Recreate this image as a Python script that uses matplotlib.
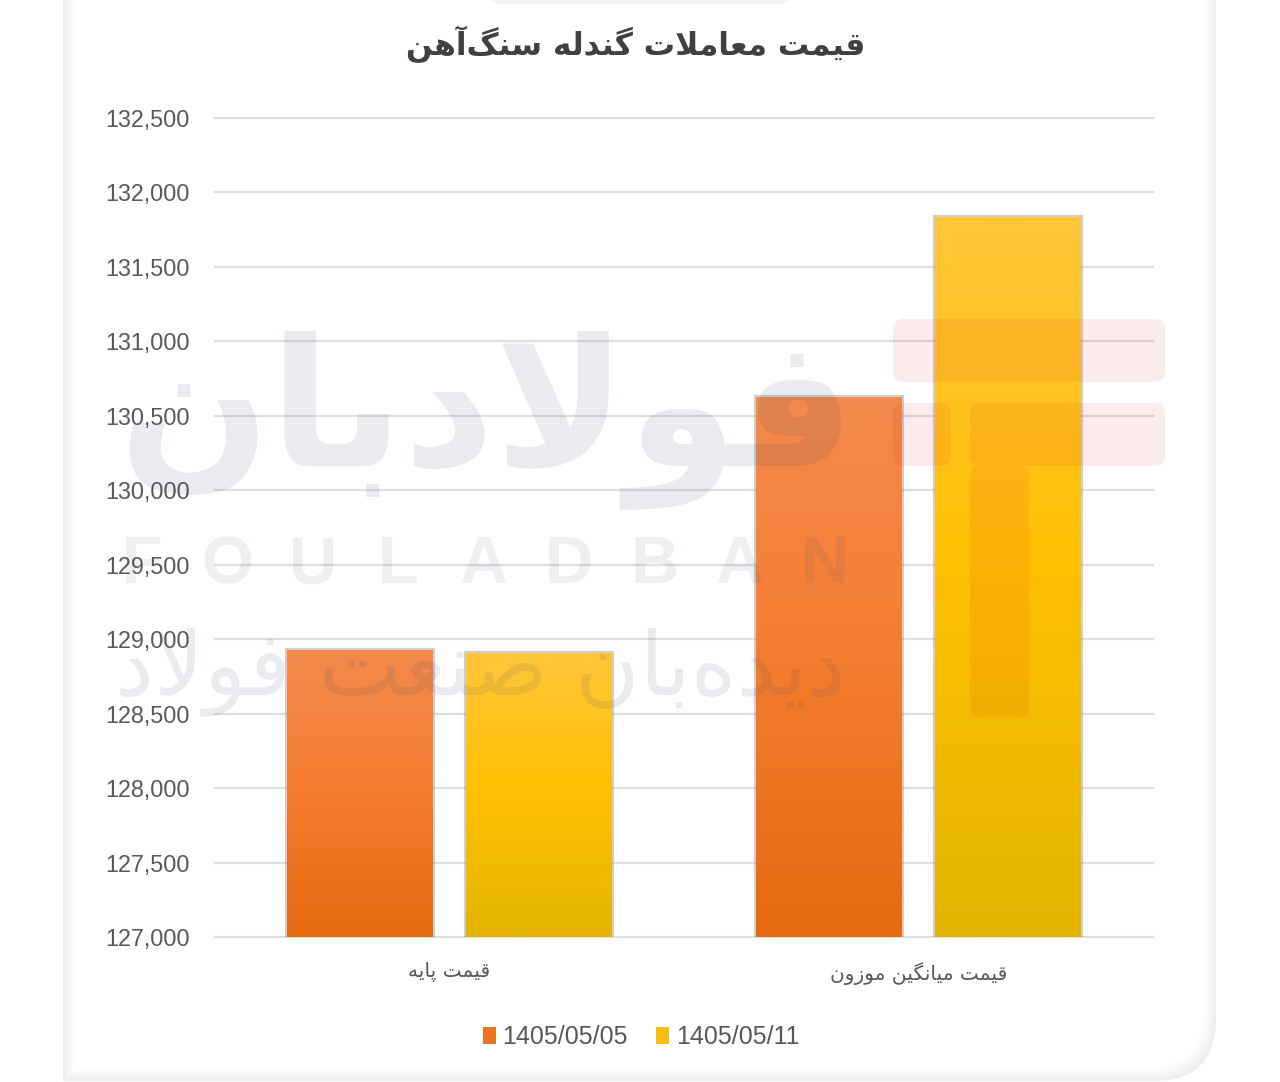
import matplotlib
matplotlib.use('Agg')
import matplotlib.pyplot as plt
from matplotlib.patches import FancyBboxPatch, Patch, Rectangle
from matplotlib.colors import LinearSegmentedColormap
import numpy as np

# Values
categories = ['قیمت پایه', 'قیمت میانگین موزون']
dates = ['1405/05/05', '1405/05/11']
prices_first = [128930, 130625]
prices_second = [128905, 131835]
y_ticks = [127000, 127500, 128000, 128500, 129000, 129500,
           130000, 130500, 131000, 131500, 132000, 132500]
title = 'قیمت معاملات گندله سنگ\u200cآهن'
logo_fa = 'فولادبان'
logo_en = 'FOULADBAN'
slogan = 'دیده\u200cبان صنعت فولاد'

W, H = 1280, 1082
LATIN = 'Liberation Sans'

# isolated, final, initial, medial presentation forms
FORMS = {
    'ا': (0xFE8D, 0xFE8E), 'آ': (0xFE81, 0xFE82), 'د': (0xFEA9, 0xFEAA),
    'ر': (0xFEAD, 0xFEAE), 'ز': (0xFEAF, 0xFEB0), 'و': (0xFEED, 0xFEEE),
    'ب': (0xFE8F, 0xFE90, 0xFE91, 0xFE92), 'پ': (0xFB56, 0xFB57, 0xFB58, 0xFB59),
    'ت': (0xFE95, 0xFE96, 0xFE97, 0xFE98), 'س': (0xFEB1, 0xFEB2, 0xFEB3, 0xFEB4),
    'ص': (0xFEB9, 0xFEBA, 0xFEBB, 0xFEBC), 'ع': (0xFEC9, 0xFECA, 0xFECB, 0xFECC),
    'ف': (0xFED1, 0xFED2, 0xFED3, 0xFED4), 'ق': (0xFED5, 0xFED6, 0xFED7, 0xFED8),
    'گ': (0xFB92, 0xFB93, 0xFB94, 0xFB95), 'ل': (0xFEDD, 0xFEDE, 0xFEDF, 0xFEE0),
    'م': (0xFEE1, 0xFEE2, 0xFEE3, 0xFEE4), 'ن': (0xFEE5, 0xFEE6, 0xFEE7, 0xFEE8),
    'ه': (0xFEE9, 0xFEEA, 0xFEEB, 0xFEEC), 'ی': (0xFBFC, 0xFBFD, 0xFBFE, 0xFBFF),
}


def shape(text):
    # matplotlib does no Arabic shaping, so pick the joined glyphs by hand
    out = []
    i = 0
    prev_joins = False
    while i < len(text):
        c = text[i]
        nxt = text[i + 1] if i + 1 < len(text) else ''
        if c == 'ل' and nxt == 'ا':
            out.append(chr(0xFEFC if prev_joins else 0xFEFB))
            prev_joins = False
            i += 2
            continue
        if c not in FORMS:
            if c != '\u200c':
                out.append(c)
            prev_joins = False
            i += 1
            continue
        f = FORMS[c]
        next_joins = len(f) == 4 and nxt in FORMS
        if len(f) == 2:
            out.append(chr(f[1] if prev_joins else f[0]))
        elif prev_joins and next_joins:
            out.append(chr(f[3]))
        elif prev_joins:
            out.append(chr(f[1]))
        elif next_joins:
            out.append(chr(f[2]))
        else:
            out.append(chr(f[0]))
        prev_joins = next_joins
        i += 1
    return ''.join(reversed(out))


fig = plt.figure(figsize=(W / 100, H / 100), dpi=100, facecolor='white')

# page card behind everything, in pixel coordinates
bg = fig.add_axes([0, 0, 1, 1], zorder=0)
bg.set_xlim(0, W)
bg.set_ylim(H, 0)
bg.axis('off')
for inset, shade in [(0, '#efeff1'), (3, '#f4f4f5'), (6, '#f8f8f9'), (9, '#fcfcfc'), (12, 'white')]:
    bg.add_patch(FancyBboxPatch((63 + inset, -80), 1153 - 2 * inset, 1161 - inset,
                                boxstyle='round,pad=0,rounding_size=62', fc=shade, ec='none'))
    # only the lower right corner of the card is round
    bg.add_patch(Rectangle((63 + inset, 900), 300, 181 - inset, fc=shade, ec='none'))
bg.add_patch(FancyBboxPatch((490, -20), 300, 24, boxstyle='round,pad=0,rounding_size=10',
                            fc='#f4f4f5', ec='none'))

# chart
ax = fig.add_axes([215 / W, 1 - 937 / H, 938 / W, 819 / H], zorder=1)
ax.patch.set_alpha(0)
x = np.arange(len(categories)) + 0.5
offset = 0.19
width = 0.311

orange = LinearSegmentedColormap.from_list('o', ['#f58a4e', '#f47c2e', '#e4690f'])
yellow = LinearSegmentedColormap.from_list('y', ['#ffc63a', '#ffc000', '#e3b400'])
grad = np.linspace(0, 1, 256).reshape(-1, 1)

series = [(prices_first, -offset, orange, '#ed7d31'), (prices_second, offset, yellow, '#fdbf10')]
for vals, off, cmap, col in series:
    ax.bar(x + off, vals, width, color='none', edgecolor='#777777', linewidth=3, alpha=0.35, zorder=2)
    bars = ax.bar(x + off, vals, width, color=col, zorder=3)
    for b in bars:
        im = ax.imshow(grad, cmap=cmap, aspect='auto', zorder=4,
                       extent=(b.get_x(), b.get_x() + b.get_width(), y_ticks[0], b.get_height()))
        im.set_clip_path(b)

ax.set_xlim(0, len(categories))
ax.set_ylim(y_ticks[0], y_ticks[-1])
ax.set_yticks(y_ticks)
ax.set_yticklabels([f'{t:,}' for t in y_ticks], family=LATIN, fontsize=16.8, color='#595959')
ax.set_xticks(x)
ax.set_xticklabels([shape(c) for c in categories], fontsize=14.5, color='#595959')
ax.tick_params(axis='y', length=0, pad=18)
ax.tick_params(axis='x', length=0, pad=18)
ax.grid(axis='y', color='#dfdfe2', linewidth=1.6, zorder=1)
ax.set_axisbelow(True)
for line in ax.get_ygridlines():
    line.set_clip_on(False)
for s in ax.spines.values():
    s.set_visible(False)

fig.text(636 / W, 1 - 44 / H, shape(title), ha='center', va='center', fontsize=22.5,
         fontweight='bold', color='#404040')

handles = [Patch(facecolor='#ea7420'), Patch(facecolor='#f7bd12')]
fig.legend(handles, dates, loc='center', bbox_to_anchor=(641 / W, 1 - 1037 / H), ncol=2, frameon=False,
           prop={'family': LATIN, 'size': 18}, labelcolor='#595959', handlelength=0.52,
           handleheight=0.68, handletextpad=0.28, columnspacing=1.12)

# watermark drawn over the chart
wm = fig.add_axes([0, 0, 1, 1], zorder=2)
wm.set_xlim(0, W)
wm.set_ylim(H, 0)
wm.axis('off')
wm_col = '#3d4f6e'
wm.text(487, 420, shape(logo_fa), ha='center', va='center', fontsize=128, fontweight='bold',
        color=wm_col, alpha=0.11)
for ch, px in zip(logo_en, np.linspace(142, 825, len(logo_en))):
    wm.text(px, 566, ch, ha='center', va='center', fontsize=48, family=LATIN, fontweight='bold',
            color=wm_col, alpha=0.09)
wm.text(480, 672, shape(slogan), ha='center', va='center', fontsize=63, color=wm_col, alpha=0.11)
logo_red = '#d8232f'
for x0, y0, w, h in [(893, 319, 272, 63), (893, 403, 58, 63), (970, 403, 195, 63)]:
    wm.add_patch(FancyBboxPatch((x0, y0), w, h, boxstyle='round,pad=0,rounding_size=10',
                                fc=logo_red, ec='none', alpha=0.09))
wm.add_patch(FancyBboxPatch((970, 466), 59, 251, boxstyle='round,pad=0,rounding_size=10',
                            fc=logo_red, ec='none', alpha=0.09))

fig.savefig('out.png', dpi=100)
